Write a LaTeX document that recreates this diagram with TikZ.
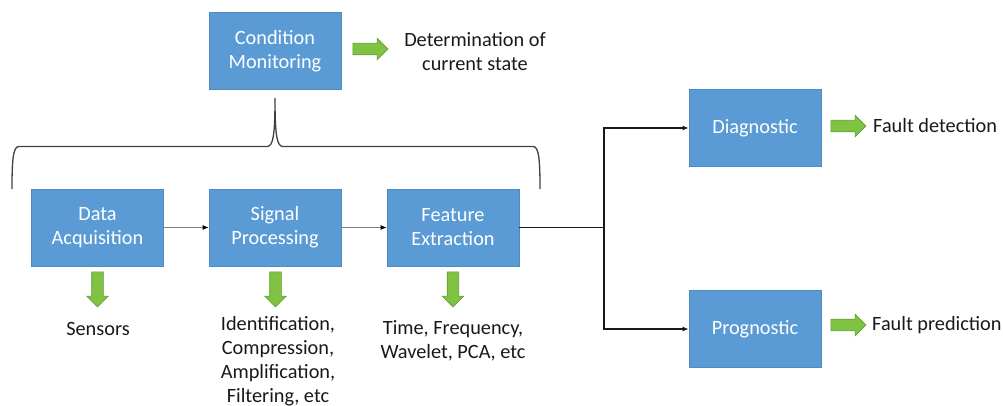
\documentclass[tikz,border=0pt]{standalone}
\usepackage{fontspec}
\setmainfont{Carlito}
\usetikzlibrary{shapes.arrows,arrows.meta}
\definecolor{boxblue}{RGB}{91,155,213}
\definecolor{boxedge}{RGB}{78,138,195}
\definecolor{agreen}{RGB}{128,194,66}
\definecolor{agreenedge}{RGB}{98,158,52}
\definecolor{txt}{RGB}{25,25,25}
\tikzset{
  blk/.style={draw=boxedge, fill=boxblue, line width=0.8pt, text=white, align=center,
    font=\fontsize{20.3}{24}\selectfont, inner sep=0pt, minimum width=132pt, minimum height=77pt},
  lbl/.style={align=center, font=\fontsize{20.3}{24}\selectfont, text=txt, inner sep=0pt},
  garrow/.style={single arrow, draw=agreenedge, fill=agreen, minimum height=35pt,
    minimum width=0pt, single arrow head extend=5pt, inner sep=5.5pt, line width=0.6pt},
  thinlink/.style={draw=black!50, line width=0.8pt, -{Latex[length=6pt,width=5pt,color=black]}},
  thicklink/.style={draw=txt, line width=1.4pt},
  bracestyle/.style={draw=black!75, line width=1.3pt},
}
\begin{document}
\begin{tikzpicture}[x=1pt,y=-1pt]
\useasboundingbox (0,0) rectangle (1003,406);

% boxes
\node[blk] (cm) at (275,51) {Condition\\Monitoring};
\node[blk] (da) at (97.5,227.5) {Data\\Acquisition};
\node[blk] (sp) at (275,227.5) {Signal\\Processing};
\node[blk] (fe) at (453,227.5) {Feature\\Extraction};
\node[blk] (diag) at (755,128) {Diagnostic};
\node[blk] (prog) at (755,329) {Prognostic};

% labels
\node[lbl] (cmt) at (475,52) {Determination of\\current state};
\node[lbl] (dat) at (98,329) {Sensors};
\node[lbl] (spt) at (278,361) {Identification,\\Compression,\\Amplification,\\Filtering, etc};
\node[lbl] (fet) at (453,341) {Time, Frequency,\\Wavelet, PCA, etc};
\node[lbl, anchor=west] (dgt) at (873,126) {Fault detection};
\node[lbl, anchor=west] (pgt) at (872,325) {Fault prediction};

% green block arrows
\node[garrow] (ga1) at (367.5,49) {};
\node[garrow, rotate=-90] (ga2) at (97.5,286.5) {};
\node[garrow, rotate=-90] (ga3) at (275.5,286.5) {};
\node[garrow, rotate=-90] (ga4) at (453,286.5) {};
\node[garrow] (ga5) at (845.5,126) {};
\node[garrow] (ga6) at (845.5,325) {};

% connectors
\draw[thinlink] (da.east) -- (sp.west);
\draw[thinlink] (sp.east) -- (fe.west);
\coordinate (split) at (604,227.5);
\draw[thicklink] (fe.east) -- (split);
\draw[thicklink, -{Latex[length=6pt,width=5pt]}] (split) |- (diag.west);
\draw[thicklink, -{Latex[length=6pt,width=5pt]}] (split) |- (prog.west);

% brace
\draw[bracestyle] (12,189) .. controls (12,160) and (13,146.5) .. (19,146.5)
  -- (267,146.5) .. controls (273,146.5) and (275,136) .. (275,98)
  .. controls (275,136) and (277,146.5) .. (283,146.5)
  -- (533,146.5) .. controls (539,146.5) and (540,160) .. (540,189);
\end{tikzpicture}
\end{document}
